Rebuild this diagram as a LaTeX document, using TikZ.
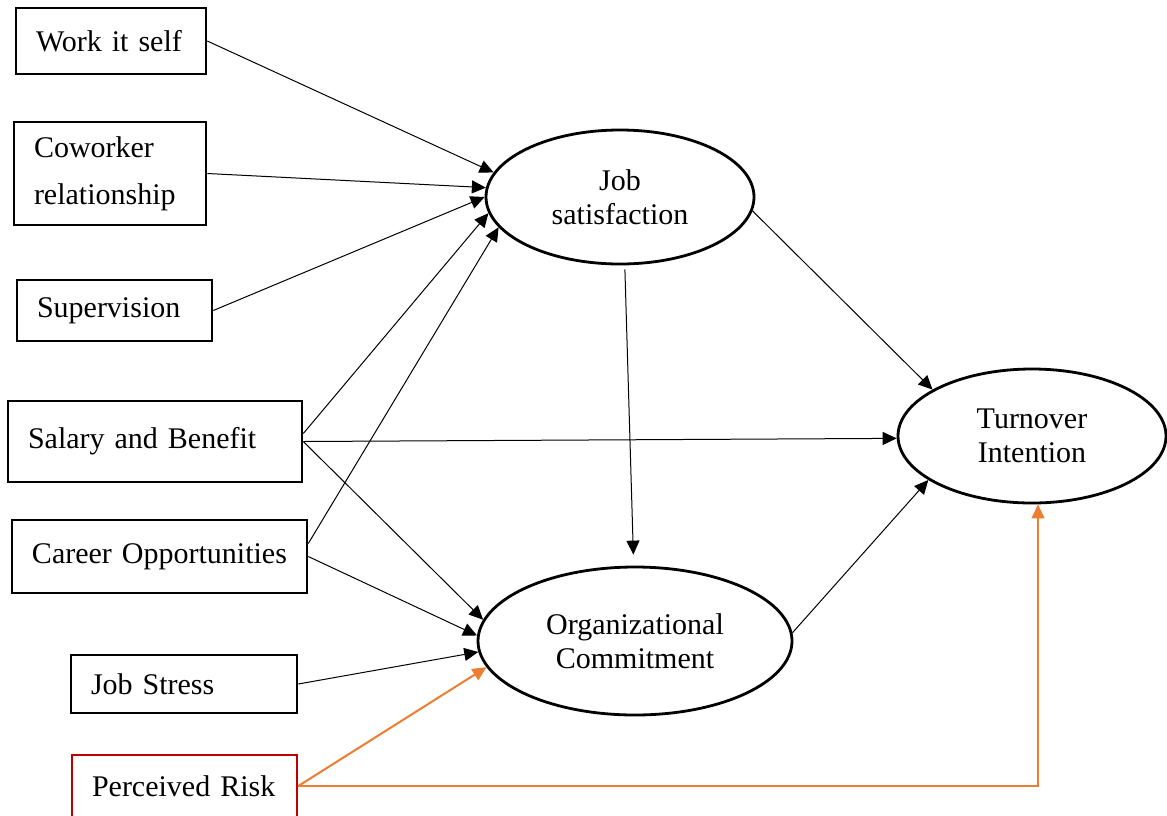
\documentclass[tikz,border=0pt]{standalone}
\usepackage{fontspec}
\setmainfont{Liberation Serif}
\usetikzlibrary{arrows.meta,shapes.geometric}
\definecolor{riskorange}{RGB}{237,125,49}
\definecolor{riskred}{RGB}{192,0,0}
\begin{document}
\begin{tikzpicture}[x=0.5pt, y=-0.5pt, font=\fontsize{15pt}{17pt}\selectfont,
            factor/.style={draw, line width=1.3pt, align=left, inner xsep=10pt, inner ysep=0pt},
            latent/.style={draw, ellipse, line width=1.4pt, align=center, inner sep=0pt},
            path/.style={-{Triangle[length=7pt,width=6.5pt]}, line width=0.5pt},
            riskpath/.style={path, draw=riskorange}]
            \useasboundingbox (0,0) rectangle (1167,815);
            \node(W) [factor, text width=75pt, minimum height=33pt] at (111,41) {Work it self};
            \node(C) [factor, text width=76pt, minimum height=51.5pt, font=\fontsize{15pt}{23.5pt}\selectfont] at (110,173.5) {Coworker\\relationship};
            \node(S) [factor, text width=77.5pt, minimum height=30.5pt] at (114.5,310.5) {Supervision};
            \node(SB) [factor, text width=127pt, minimum height=40.5pt] at (155,441.5) {Salary and Benefit};
            \node(CO) [factor, text width=127.5pt, minimum height=36.5pt] at (159.5,556.5) {Career Opportunities};
            \node(JST) [factor, text width=93pt, minimum height=29pt] at (184,684) {Job Stress};
            \node(R) [factor, draw=riskred, text width=92.5pt, minimum height=31pt] at (184.5,786) {Perceived Risk};
            \node(JS) [latent, minimum width=134pt, minimum height=67pt] at (620,197) {Job\\satisfaction};
            \node(OC) [latent, minimum width=157pt, minimum height=74pt] at (635,641) {Organizational\\Commitment};
            \node(TI) [latent, minimum width=134pt, minimum height=67pt] at (1032,436) {Turnover\\Intention};
            \draw[path](W.east) -- (JS.169);
            \draw[path](C.east) -- (JS.176);
            \draw[path](S.east) -- (JS.180);
            \draw[path]([yshift=4pt]SB.east) -- (JS.187);
            \draw[path]([yshift=6.5pt]CO.east) -- (JS.194);
            \draw[path](SB.east) -- (TI.181.5);
            \draw[path](SB.east) -- (OC.172);
            \draw[path](CO.east) -- (OC.178);
            \draw[path](JST.east) -- (OC.184);
            \draw[path, shorten <=2pt, shorten >=5.5pt](JS.-86) -- (OC.91);
            \draw[path](JS.-6) -- (TI.155);
            \draw[path](OC.3) -- (TI.203);
            \draw[riskpath, line width=1pt](R.east) -- (OC.190);
            \draw[riskpath, line width=0.6pt](R.east) -| ([xshift=3pt]TI.south);
            \end{tikzpicture}
\end{document}
